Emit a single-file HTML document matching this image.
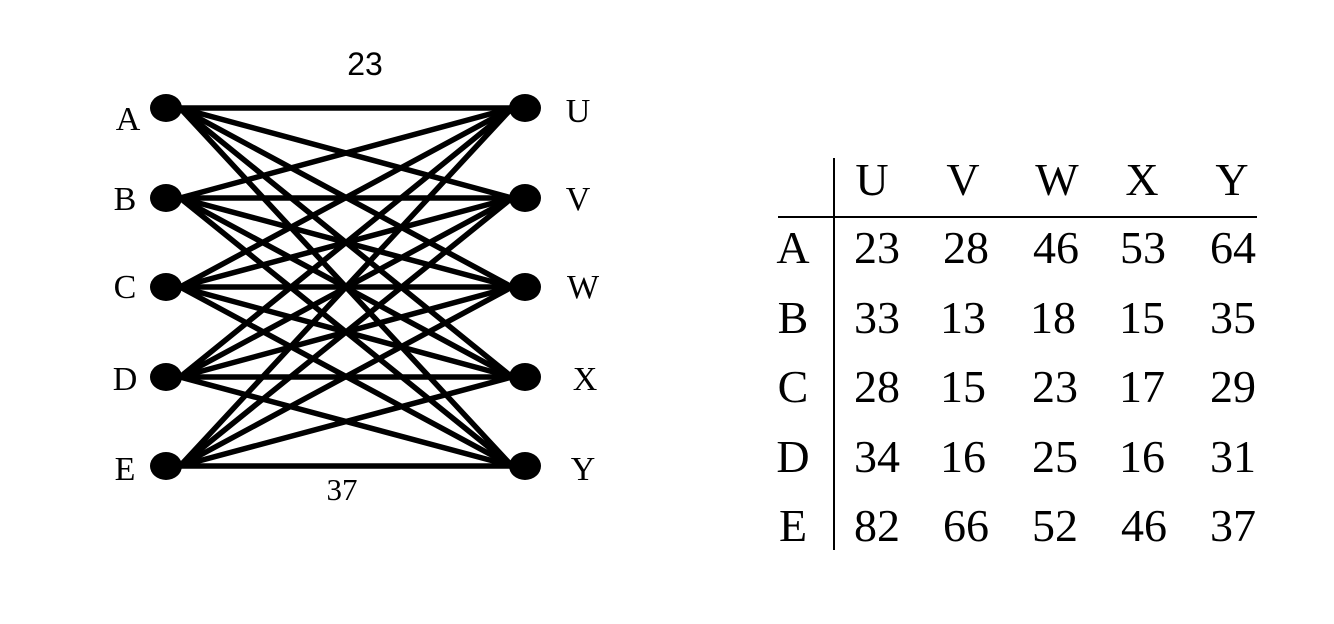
<!DOCTYPE html>
<html><head><meta charset="utf-8"><style>html,body{margin:0;padding:0;background:#fff}svg{display:block}</style></head>
<body>
<svg width="1334" height="624" viewBox="0 0 1334 624" xmlns="http://www.w3.org/2000/svg">
<g stroke="#000" stroke-width="5.5" stroke-linecap="round">
<line x1="180" y1="108" x2="512" y2="108"/><line x1="180" y1="108" x2="512" y2="198"/><line x1="180" y1="108" x2="512" y2="287"/><line x1="180" y1="108" x2="512" y2="377"/><line x1="180" y1="108" x2="512" y2="466"/>
<line x1="180" y1="198" x2="512" y2="108"/><line x1="180" y1="198" x2="512" y2="198"/><line x1="180" y1="198" x2="512" y2="287"/><line x1="180" y1="198" x2="512" y2="377"/><line x1="180" y1="198" x2="512" y2="466"/>
<line x1="180" y1="287" x2="512" y2="108"/><line x1="180" y1="287" x2="512" y2="198"/><line x1="180" y1="287" x2="512" y2="287"/><line x1="180" y1="287" x2="512" y2="377"/><line x1="180" y1="287" x2="512" y2="466"/>
<line x1="180" y1="377" x2="512" y2="108"/><line x1="180" y1="377" x2="512" y2="198"/><line x1="180" y1="377" x2="512" y2="287"/><line x1="180" y1="377" x2="512" y2="377"/><line x1="180" y1="377" x2="512" y2="466"/>
<line x1="180" y1="466" x2="512" y2="108"/><line x1="180" y1="466" x2="512" y2="198"/><line x1="180" y1="466" x2="512" y2="287"/><line x1="180" y1="466" x2="512" y2="377"/><line x1="180" y1="466" x2="512" y2="466"/>
</g>
<g fill="#000">
<ellipse cx="166" cy="108" rx="16" ry="14"/><ellipse cx="166" cy="198" rx="16" ry="14"/><ellipse cx="166" cy="287" rx="16" ry="14"/><ellipse cx="166" cy="377" rx="16" ry="14"/><ellipse cx="166" cy="466" rx="16" ry="14"/>
<ellipse cx="525" cy="108" rx="16" ry="14"/><ellipse cx="525" cy="198" rx="16" ry="14"/><ellipse cx="525" cy="287" rx="16" ry="14"/><ellipse cx="525" cy="377" rx="16" ry="14"/><ellipse cx="525" cy="466" rx="16" ry="14"/>
</g>
<g font-family="Liberation Serif, serif" font-size="34" text-anchor="middle">
<text x="128" y="130">A</text><text x="125" y="210">B</text><text x="125" y="298">C</text><text x="125" y="390">D</text><text x="125" y="480">E</text>
<text x="578" y="122">U</text><text x="578" y="210">V</text><text x="583" y="298">W</text><text x="585" y="390">X</text><text x="583" y="480">Y</text>
<text x="342" y="500" font-size="31">37</text>
</g>
<text x="365" y="75" font-family="Liberation Sans, sans-serif" font-size="32" text-anchor="middle">23</text>
<g stroke="#000" stroke-width="2"><line x1="834" y1="158" x2="834" y2="550"/><line x1="778" y1="217" x2="1257" y2="217"/></g>
<g font-family="Liberation Serif, serif" font-size="46" text-anchor="middle">
<text x="872" y="195">U</text><text x="963" y="195">V</text><text x="1057" y="195">W</text><text x="1142" y="195">X</text><text x="1232" y="195">Y</text>
<text x="793" y="263">A</text><text x="877" y="263">23</text><text x="966" y="263">28</text><text x="1056" y="263">46</text><text x="1143" y="263">53</text><text x="1233" y="263">64</text>
<text x="793" y="333">B</text><text x="877" y="333">33</text><text x="963" y="333">13</text><text x="1053" y="333">18</text><text x="1142" y="333">15</text><text x="1233" y="333">35</text>
<text x="793" y="402">C</text><text x="877" y="402">28</text><text x="963" y="402">15</text><text x="1055" y="402">23</text><text x="1142" y="402">17</text><text x="1233" y="402">29</text>
<text x="793" y="472">D</text><text x="877" y="472">34</text><text x="963" y="472">16</text><text x="1055" y="472">25</text><text x="1142" y="472">16</text><text x="1233" y="472">31</text>
<text x="793" y="541">E</text><text x="877" y="541">82</text><text x="966" y="541">66</text><text x="1055" y="541">52</text><text x="1144" y="541">46</text><text x="1233" y="541">37</text>
</g>
</svg>
</body></html>
